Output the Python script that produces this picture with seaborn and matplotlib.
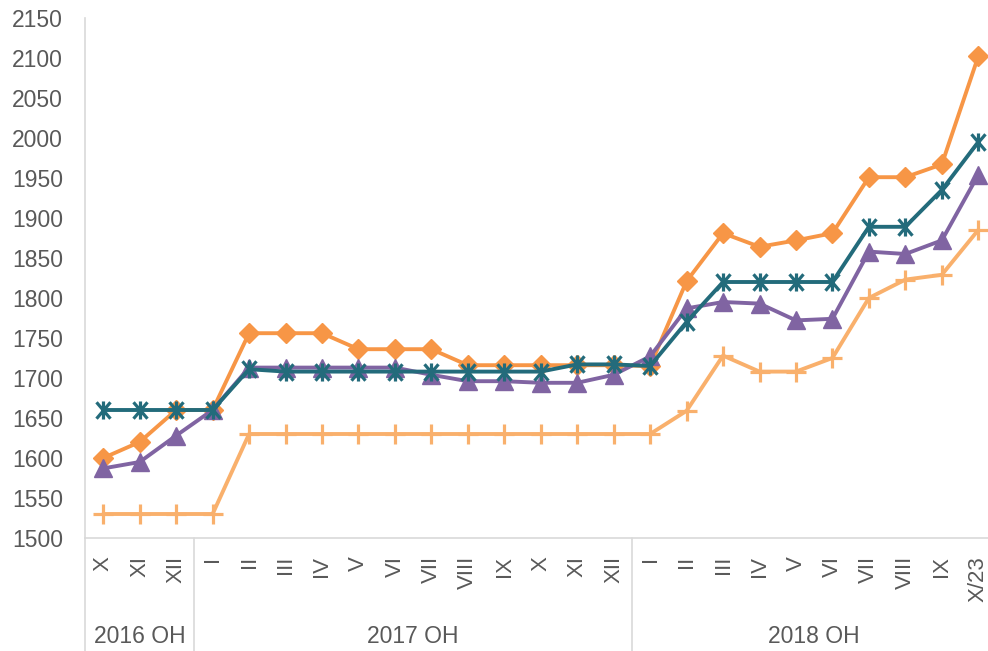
import numpy as np
import pandas as pd
import matplotlib
matplotlib.use("Agg")
import matplotlib.pyplot as plt
import matplotlib.transforms as mtransforms
from matplotlib.path import Path
import seaborn as sns

# ---- data ----
month_labels = ["X", "XI", "XII",
                "I", "II", "III", "IV", "V", "VI", "VII", "VIII", "IX", "X", "XI", "XII",
                "I", "II", "III", "IV", "V", "VI", "VII", "VIII", "IX", "X/23"]
group_labels = ["2016 OH", "2017 OH", "2018 OH"]
group_sizes = [3, 12, 10]

series_diamond = [1600, 1620, 1660, 1660, 1756, 1756, 1756, 1736, 1736, 1736, 1716, 1716, 1716,
                  1716, 1716, 1715, 1821, 1881, 1864, 1872, 1881, 1951, 1951, 1967, 2102]
series_triangle = [1587, 1595, 1628, 1660, 1713, 1713, 1713, 1713, 1713, 1704, 1696, 1696, 1694,
                   1694, 1704, 1727, 1787, 1795, 1793, 1772, 1774, 1858, 1855, 1872, 1954]
series_star = [1660, 1660, 1660, 1660, 1711, 1708, 1708, 1708, 1708, 1708, 1708, 1708, 1708,
               1717, 1717, 1715, 1770, 1820, 1820, 1820, 1820, 1889, 1889, 1935, 1995]
series_plus = [1530, 1530, 1530, 1530, 1630, 1630, 1630, 1630, 1630, 1630, 1630, 1630, 1630,
               1630, 1630, 1630, 1659, 1728, 1708, 1708, 1725, 1800, 1823, 1829, 1885]

yticks = list(range(1500, 2151, 50))

df = pd.DataFrame({
    "pos": np.arange(len(month_labels)),
    "diamond": series_diamond,
    "triangle": series_triangle,
    "star": series_star,
    "plus": series_plus,
})

# ---- style ----
sns.set_theme(style="white")
plt.rcParams["font.family"] = ["Liberation Sans", "DejaVu Sans"]
text_color = "#595959"
grid_color = "#D9D9D9"

W, H = 988, 651
fig = plt.figure(figsize=(W / 100, H / 100), dpi=100)
ax = fig.add_axes([85 / W, 113 / H, 911.5 / W, 520 / H])

star_marker = Path([(-0.85, -1), (0.85, 1), (-0.85, 1), (0.85, -1), (0, -1.1), (0, 1.1)],
                   [Path.MOVETO, Path.LINETO] * 3)

lw = 2.8
sns.lineplot(data=df, x="pos", y="diamond", ax=ax, color="#F79646", linewidth=lw,
             marker="D", markersize=10.5, markeredgecolor="#F79646", markeredgewidth=1,
             sort=False, zorder=3)
sns.lineplot(data=df, x="pos", y="triangle", ax=ax, color="#8064A2", linewidth=lw,
             marker="^", markersize=12.5, markeredgecolor="#8064A2", markeredgewidth=1,
             sort=False, zorder=4)
sns.lineplot(data=df, x="pos", y="star", ax=ax, color="#236B7B", linewidth=lw,
             marker=star_marker, markersize=13, markeredgecolor="#236B7B",
             markerfacecolor="none", markeredgewidth=2.3, sort=False, zorder=5)
sns.lineplot(data=df, x="pos", y="plus", ax=ax, color="#F9B06C", linewidth=lw,
             marker="+", markersize=14, markeredgecolor="#F9B06C", markeredgewidth=2.3,
             sort=False, zorder=3)

ax.set_xlim(-0.5, len(month_labels) - 0.5)
ax.set_ylim(1500, 2150)
ax.set_yticks(yticks)
ax.set_yticklabels([str(v) for v in yticks], fontsize=16.5, color=text_color)
ax.set_xticks(df["pos"])
ax.set_xticklabels(month_labels, rotation=90, fontsize=16, color=text_color, va="top")
ax.tick_params(axis="both", length=0)
ax.tick_params(axis="y", pad=16)
ax.tick_params(axis="x", pad=13)
ax.set_xlabel("")
ax.set_ylabel("")

for side in ["top", "right"]:
    ax.spines[side].set_visible(False)
for side in ["left", "bottom"]:
    ax.spines[side].set_color(grid_color)
    ax.spines[side].set_linewidth(1.2)

# group dividers and labels
trans = mtransforms.blended_transform_factory(ax.transData, ax.transAxes)
bottom_ext = -113 / 520
edges = np.concatenate([[0], np.cumsum(group_sizes)]) - 0.5
for e in edges:
    ax.plot([e, e], [0, bottom_ext], transform=trans, color=grid_color, lw=1.2,
            clip_on=False, zorder=1)
for i, g in enumerate(group_labels):
    c = (edges[i] + edges[i + 1]) / 2
    ax.text(c, (538 - 636.5) / 520, g, transform=trans, ha="center", va="center",
            fontsize=16.5, color=text_color)

fig.savefig("out.png", dpi=100)
